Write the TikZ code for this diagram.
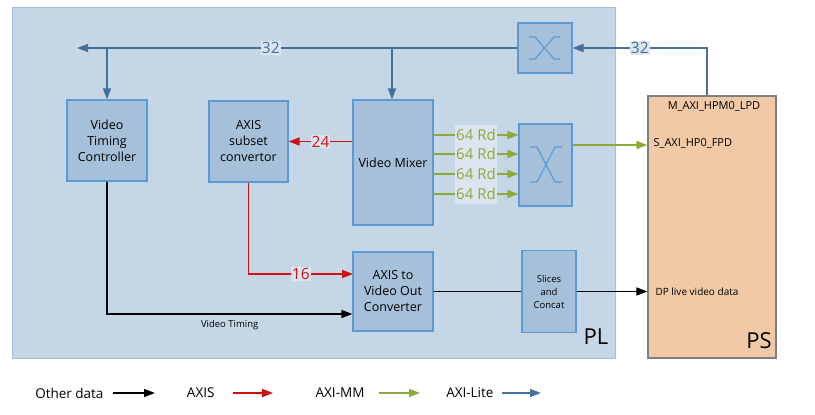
\documentclass[tikz,border=0pt]{standalone}
\usepackage{fontspec}
\setmainfont{Open Sans}
\usepackage{tikz}
\usepackage{xcolor}
\usetikzlibrary{arrows.meta}

\definecolor{plfill}{HTML}{C5D6E6}
\definecolor{plline}{HTML}{9FBFDD}
\definecolor{boxfill}{HTML}{A7C0DA}
\definecolor{boxline}{HTML}{5B9BD5}
\definecolor{psfill}{HTML}{F1C9A7}
\definecolor{psline}{HTML}{7F7F7F}
\definecolor{litecol}{HTML}{44709D}
\definecolor{axiscol}{HTML}{D01010}
\definecolor{mmcol}{HTML}{8FA83A}
\definecolor{lblfill}{HTML}{DCE5EF}

\begin{document}
\begin{tikzpicture}[x=1pt,y=-1pt]
    \tikzstyle{blk}=[rectangle,draw=boxline,fill=boxfill,line width=1.2pt,align=center,font=\fontsize{12.5}{16}\selectfont]
    \tikzstyle{lite}=[draw=litecol,line width=1.5pt,-{Triangle[length=11pt,width=8pt]}]
    \tikzstyle{axis}=[draw=axiscol,line width=1.5pt,-{Triangle[length=11pt,width=8pt]}]
    \tikzstyle{mm}=[draw=mmcol,line width=1.5pt,-{Triangle[length=11pt,width=8pt]}]
    \tikzstyle{oth}=[draw=black,line width=1.5pt,-{Triangle[length=11pt,width=8pt]}]
    \tikzstyle{lbl}=[fill=lblfill,inner sep=1pt,font=\fontsize{15.5}{17}\selectfont]
    \tikzstyle{xbar}=[draw=boxline,line width=1.2pt]

    \useasboundingbox (0,0) rectangle (815,415);

    % PL and PS areas
    \draw [draw=plline,fill=plfill,line width=1pt] (12,7) rectangle (615,358);
    \node (pl) at (596,337) {\fontsize{22}{24}\selectfont PL};
    \node [rectangle,draw=psline,fill=psfill,line width=1.2pt,minimum width=128,minimum height=262] (ps) at (712,227) {};
    \node (pslbl) at (759,341) {\fontsize{22}{24}\selectfont PS};
    \node [font=\fontsize{11}{12}\selectfont] (hpm) at (714,106) {M\_AXI\_HPM0\_LPD};
    \node [font=\fontsize{11}{12}\selectfont,anchor=west] (hp0) at (650,143) {S\_AXI\_HP0\_FPD};
    \node [font=\fontsize{10}{12}\selectfont,anchor=west] (dpl) at (652,292) {DP live video data};

    % Blocks
    \node [blk,minimum width=80,minimum height=81] (vtc) at (107,140.5) {Video\\Timing\\Controller};
    \node [blk,minimum width=79,minimum height=81] (axs) at (248.5,141.5) {AXIS\\subset\\convertor};
    \node [blk,minimum width=80,minimum height=125] (mix) at (393,162.5) {Video Mixer};
    \node [blk,minimum width=80,minimum height=79] (conv) at (393,291.5) {AXIS to\\Video Out\\Converter};
    \node [blk,minimum width=54,minimum height=82,font=\fontsize{9.5}{13}\selectfont] (slc) at (549,291.5) {Slices\\and\\Concat};
    \node [blk,minimum width=54,minimum height=50] (sw1) at (545,48) {};
    \node [blk,minimum width=53,minimum height=82] (sw2) at (545.5,165) {};

    % Switch symbols
    \draw [xbar] (529,37) -- (535,37) -- (554,59) -- (560,59);
    \draw [xbar] (529,59) -- (535,59) -- (554,37) -- (560,37);
    \draw [xbar] (530,147) -- (537,147) -- (555,182) -- (562,182);
    \draw [xbar] (530,182) -- (537,182) -- (555,147) -- (562,147);

    % AXI-Lite
    \coordinate (busend) at (77,48);
    \draw [lite] ([xshift=-5]ps.north) |- (sw1.east) node [lbl,pos=0.75,text=litecol] {32};
    \draw [lite] (sw1.west) -- (busend) node [lbl,pos=0.56,text=litecol] {32};
    \draw [lite] (vtc.north |- busend) -- (vtc.north);
    \draw [lite] (392,48) -- (mix.north -| 392,0);

    % AXIS
    \draw [axis] (mix.west |- axs.east) -- (axs.east) node [lbl,midway,text=axiscol] {24};
    \draw [axis] (axs.south) |- (353,274) node [lbl,pos=0.75,text=axiscol] {16};

    % AXI-MM
    \fill [lblfill] (455,125) rectangle (497,204);
    \foreach \y in {135,154,174,194}
        \draw [mm] (mix.east |- 0,\y) -- (sw2.west |- 0,\y) node [midway,fill=lblfill,inner sep=1pt,text=mmcol,font=\fontsize{15}{16}\selectfont] {64 Rd};
    \draw [mm] (sw2.east |- 0,145) -- (ps.west |- 0,145);

    % Other data
    \draw [oth] (vtc.south) |- (conv.west |- 0,314) node [pos=0.75,below=2pt,font=\fontsize{9.5}{10}\selectfont] {Video Timing};
    \draw [line width=1.5pt] (conv.east) -- (slc.west);
    \draw [oth] (slc.east) -- (ps.west |- slc.east);

    % Legend
    \node [anchor=east,font=\fontsize{13.5}{15}\selectfont] (lgoth) at (107,393) {Other data};
    \draw [oth] (113,393) -- (155,393);
    \node [anchor=east,font=\fontsize{13.5}{15}\selectfont] (lgaxis) at (218,393) {AXIS};
    \draw [axis] (233,393) -- (273,393);
    \node [anchor=east,font=\fontsize{13.5}{15}\selectfont] (lgmm) at (368,393) {AXI-MM};
    \draw [mm] (379,393) -- (420,393);
    \node [anchor=east,font=\fontsize{13.5}{15}\selectfont] (lglite) at (497,393) {AXI-Lite};
    \draw [lite] (502,393) -- (541,393);
\end{tikzpicture}
\end{document}
